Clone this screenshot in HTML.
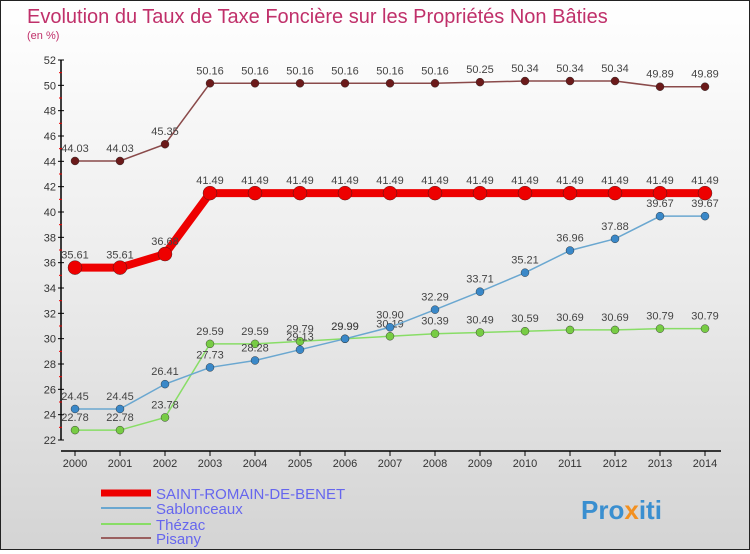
<!DOCTYPE html>
<html><head><meta charset="utf-8"><style>
html,body{margin:0;padding:0}
body{width:750px;height:550px;overflow:hidden;font-family:"Liberation Sans",sans-serif;}
#wrap{position:relative;width:748px;height:548px;border:1px solid #222;background:linear-gradient(#ffffff 0%,#ececec 50%,#d4d4d4 100%);}
</style></head><body>
<div id="wrap">
<svg id="chart" width="748" height="548" xmlns="http://www.w3.org/2000/svg">
<text x="26" y="22" font-size="20" fill="#c0306a">Evolution du Taux de Taxe Foncière sur les Propriétés Non Bâties</text>
<text x="26" y="38" font-size="11" fill="#c0306a">(en %)</text>
<g id="axes"></g><g id="series"></g>
<g>
<line x1="100" y1="492" x2="150" y2="492" stroke="#e00" stroke-width="7"/>
<text x="155" y="498" font-size="15" fill="#6666ee">SAINT-ROMAIN-DE-BENET</text>
<line x1="100" y1="507" x2="150" y2="507" stroke="#6aa7d0" stroke-width="2"/>
<text x="155" y="513" font-size="15" fill="#6666ee">Sablonceaux</text>
<line x1="100" y1="523" x2="150" y2="523" stroke="#88dd66" stroke-width="2"/>
<text x="155" y="529" font-size="15" fill="#6666ee">Thézac</text>
<line x1="100" y1="537" x2="150" y2="537" stroke="#9a6060" stroke-width="2"/>
<text x="155" y="543" font-size="15" fill="#6666ee">Pisany</text>
</g>
<text x="580" y="518" font-size="26" font-weight="bold" fill="#3a8fd0">Pro<tspan fill="#f39020">x</tspan>iti</text>
</svg>
</div>
<script>
const years=[2000,2001,2002,2003,2004,2005,2006,2007,2008,2009,2010,2011,2012,2013,2014];
const yTicks=[22,24,26,28,30,32,34,36,38,40,42,44,46,48,50,52];
const saintRomain=[35.61,35.61,36.68,41.49,41.49,41.49,41.49,41.49,41.49,41.49,41.49,41.49,41.49,41.49,41.49];
const sablonceaux=[24.45,24.45,26.41,27.73,28.28,29.13,29.99,30.9,32.29,33.71,35.21,36.96,37.88,39.67,39.67];
const thezac=[22.78,22.78,23.78,29.59,29.59,29.79,29.99,30.19,30.39,30.49,30.59,30.69,30.69,30.79,30.79];
const pisany=[44.03,44.03,45.35,50.16,50.16,50.16,50.16,50.16,50.16,50.25,50.34,50.34,50.34,49.89,49.89];
const NS="http://www.w3.org/2000/svg";
const x=i=>74+i*45;
const y=v=>439-(v-22)*(380/30);
function mk(tag,attrs,parent){const e=document.createElementNS(NS,tag);for(const k in attrs)e.setAttribute(k,attrs[k]);parent.appendChild(e);return e;}
const ax=document.getElementById('axes');
let e=mk('line',{x1:60,y1:y(52),x2:60,y2:y(22),stroke:'#000','stroke-width':1.5},ax);


e=mk('line',{x1:60,y1:450,x2:720,y2:450,stroke:'#000','stroke-width':1.5},ax);


yTicks.forEach((t,i)=>{
  mk('line',{x1:57,y1:y(t),x2:63,y2:y(t),stroke:'#000'},ax);
  if(i<yTicks.length-1)mk('line',{x1:58,y1:y(t+1),x2:61,y2:y(t+1),stroke:'#e00'},ax);
  const tx=mk('text',{x:55,y:y(t)+4,'font-size':11,'text-anchor':'end',fill:'#333'},ax);
  tx.textContent=t;
  
  
});
years.forEach((yr,i)=>{
  mk('line',{x1:x(i),y1:450,x2:x(i),y2:455,stroke:'#000'},ax);
  const tx=mk('text',{x:x(i),y:466,'font-size':11,'text-anchor':'middle',fill:'#333'},ax);
  tx.textContent=yr;
  
  
});
const sg=document.getElementById('series');
function draw(vals,name,color,dot,lw,r,fmt){
  const g=mk('g',{},sg);
  
  
  const pl=mk('polyline',{points:vals.map((v,i)=>x(i)+','+y(v)).join(' '),fill:'none',stroke:color,'stroke-width':lw},g);
  
  
  vals.forEach((v,i)=>{
    const c=mk('circle',{cx:x(i),cy:y(v),r:r,fill:dot,stroke:'#222','stroke-width':0.4},g);
    
    
    const t=mk('text',{x:x(i),y:y(v)-9,'font-size':11,'text-anchor':'middle',fill:'#444'},g);
    t.textContent=fmt(v);
    
    
  });
}
const f=v=>v.toFixed(2);
draw(pisany,'pisany','#8a4a4a','#6b1a1a',1.5,4,f);
draw(thezac,'thezac','#88dd66','#77cc44',1.5,4,f);
draw(sablonceaux,'sablonceaux','#6aa7d0','#3a88c8',1.5,4,f);
draw(saintRomain,'saint-romain','#ee0000','#ee0000',8,7,f);
</script>
</body></html>
